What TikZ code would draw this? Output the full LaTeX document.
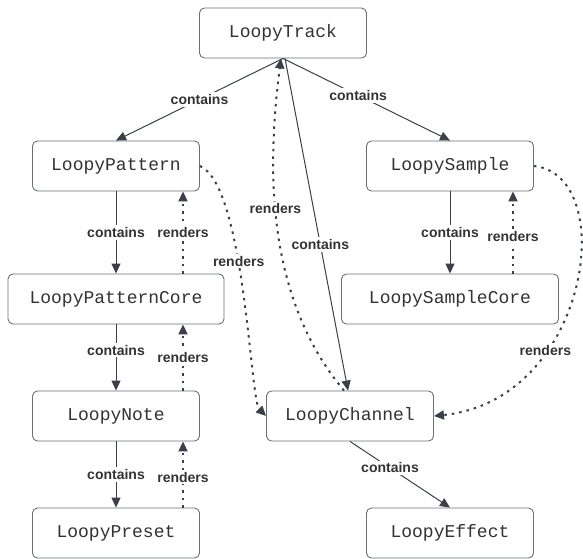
\documentclass[tikz,border=0pt]{standalone}
\usepackage{fontspec}
\setmainfont{Liberation Sans}
\setmonofont{Liberation Mono}
\usepackage{tikz}
\usetikzlibrary{arrows.meta}
\definecolor{edgegray}{HTML}{3A3F48}
\definecolor{boxgray}{HTML}{6B6F78}
\definecolor{textgray}{HTML}{333333}

\begin{document}
\begin{tikzpicture}[x=1pt,y=-1pt,
  cls/.style={draw=boxgray, fill=white, line width=0.9pt, rounded corners=5pt,
    minimum width=167pt, minimum height=50pt, text=textgray,
    font=\ttfamily\fontsize{18}{18}\selectfont},
  has/.style={draw=edgegray, line width=1pt, -{Triangle[length=10pt,width=9pt]}},
  rend/.style={draw=edgegray, line width=2pt, dash pattern=on 2.5pt off 5pt,
    -{Triangle[length=10pt,width=9pt]}},
  lbl/.style={fill=white, text=textgray, inner sep=2pt,
    font=\bfseries\fontsize{14}{14}\selectfont}]
\useasboundingbox (0,0) rectangle (583,558);
\node[cls] (track) at (283,33) {LoopyTrack};
\node[cls] (pattern) at (116,166) {LoopyPattern};
\node[cls] (sample) at (450,166) {LoopySample};
\node[cls, minimum width=216pt] (patterncore) at (116,299) {LoopyPatternCore};
\node[cls, minimum width=217pt] (samplecore) at (450,299) {LoopySampleCore};
\node[cls] (note) at (116,416) {LoopyNote};
\node[cls] (channel) at (350,416) {LoopyChannel};
\node[cls] (preset) at (116,533) {LoopyPreset};
\node[cls] (effect) at (450,533) {LoopyEffect};
\foreach \a/\b/\p/\q in {pattern/patterncore/0.5/0.5, patterncore/note/0.39/0.5, note/preset/0.5/0.46} {
    \draw[has] (\a) -- node[lbl,pos=\p] {contains} (\b);
    \draw[rend] ([xshift=67pt]\b.north) -- node[lbl,pos=\q] {renders} ([xshift=67pt]\a.south);
}
\draw[has] (sample) -- node[lbl] {contains} (samplecore);
\draw[rend] ([xshift=63pt]samplecore.north) -- node[lbl,pos=0.45] {renders} ([xshift=63pt]sample.south);
\draw[has] (track.south) -- node[lbl] {contains} (pattern.north);
\draw[has] (track.south) -- node[lbl,pos=0.45] {contains} (sample.north);
\draw[has] ([xshift=2pt]track.south) -- node[lbl,pos=0.56] {contains} ([xshift=-2pt]channel.north);
\draw[has] (channel.south) -- node[lbl,pos=0.4] {contains} (effect.north);
\draw[rend] ([xshift=-6pt]channel.north) .. controls (263,294) and (268,160) .. node[lbl,pos=0.55] {renders} ([xshift=-2pt]track.south);
\draw[rend] (pattern.east) .. controls (245,185) and (250,400) .. node[lbl,pos=0.41] {renders} (channel.west);
\draw[rend] (sample.east) .. controls (620,175) and (590,400) .. node[lbl,pos=0.68] {renders} (channel.east);
\end{tikzpicture}
\end{document}
